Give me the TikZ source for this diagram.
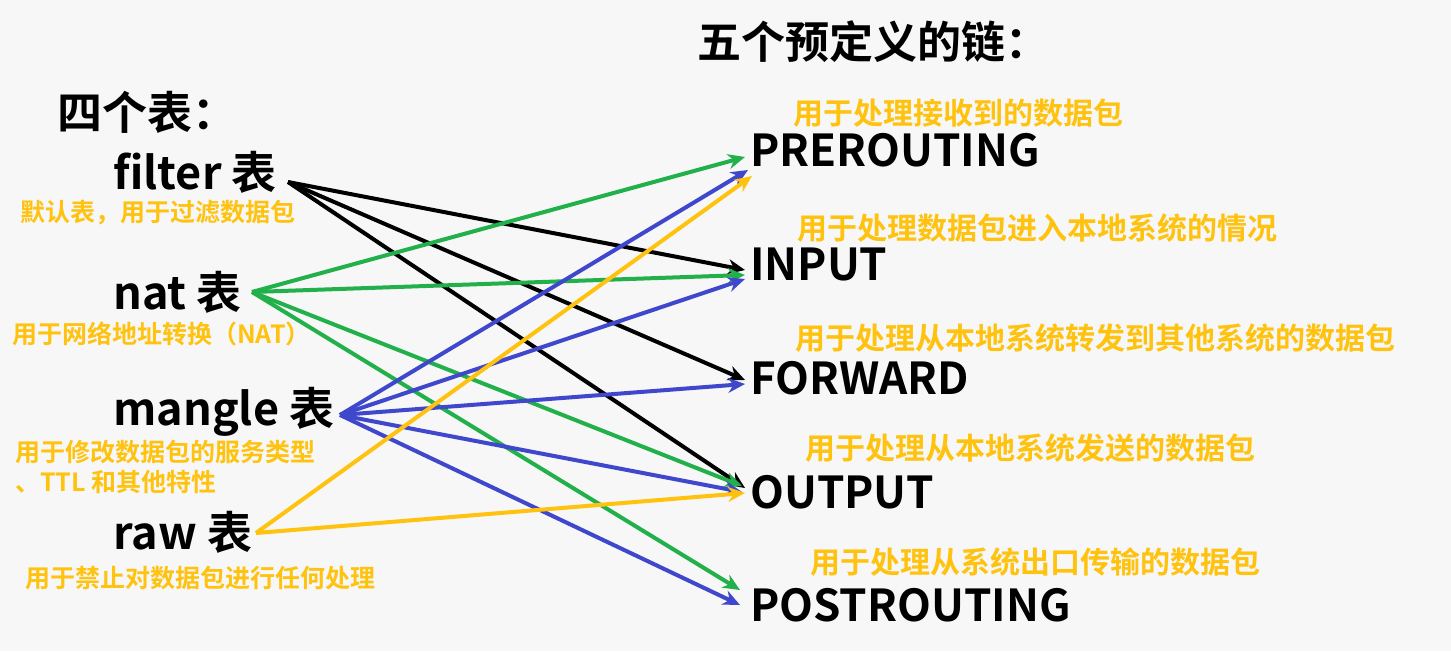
\documentclass[tikz,border=0pt]{standalone}
\usepackage{fontspec}
\setmainfont{Noto Sans CJK SC}[BoldFont={* Bold}]
\usetikzlibrary{arrows.meta}
\definecolor{bg}{HTML}{F7F7F7}
\definecolor{gr}{HTML}{22B04A}
\definecolor{bl}{HTML}{3F48CC}
\definecolor{ye}{HTML}{FFC20E}
\tikzset{
 big/.style={anchor=west,inner sep=0pt,font=\bfseries\fontsize{45}{47}\selectfont},
 chain/.style={anchor=west,inner sep=0pt,font=\bfseries\fontsize{44}{46}\selectfont},
 note/.style={anchor=west,inner sep=0pt,text=ye,font=\bfseries\fontsize{30}{32}\selectfont},
 snote/.style={anchor=west,inner sep=0pt,text=ye,font=\bfseries\fontsize{25}{27}\selectfont},
 arr/.style={line width=4pt,-{Stealth[length=17pt,width=15pt]}},
}
\begin{document}
\begin{tikzpicture}[x=1pt,y=-1pt]
\fill[bg] (0,0) rectangle (1451,651);
\useasboundingbox (0,0) rectangle (1451,651);
\node[big,font=\bfseries\fontsize{44}{46}\selectfont] (t1) at (697,42) {五个预定义的链：};
\node[big] (t2) at (57,112) {四个表：};
\node[big] (filter) at (113,172) {filter 表};
\node[snote] (n1) at (20,213) {默认表，用于过滤数据包};
\node[big] (nat) at (113,292) {nat 表};
\node[snote] (n2) at (12,334) {用于网络地址转换（NAT）};
\node[big] (mangle) at (113,412) {mangle 表};
\node[snote] (n3) at (15,452) {用于修改数据包的服务类型};
\node[snote] (n3b) at (15,482) {、TTL 和其他特性};
\node[big] (raw) at (113,532) {raw 表};
\node[snote] (n4) at (25,578) {用于禁止对数据包进行任何处理};
\node[chain] (pre) at (750,150) {PREROUTING};
\node[chain] (inp) at (750,265) {INPUT};
\node[chain] (fwd) at (750,378) {FORWARD};
\node[chain] (out) at (750,492) {OUTPUT};
\node[chain] (post) at (750,605) {POSTROUTING};
\node[note] (l1) at (793,113) {用于处理接收到的数据包};
\node[note] (l2) at (797,228) {用于处理数据包进入本地系统的情况};
\node[note] (l3) at (795,338) {用于处理从本地系统转发到其他系统的数据包};
\node[note] (l4) at (805,448) {用于处理从本地系统发送的数据包};
\node[note] (l5) at (810,562) {用于处理从系统出口传输的数据包};
\coordinate (fs) at (288,182);
\coordinate (ns) at (252,292);
\coordinate (ms) at (340,415);
\coordinate (rs) at (256,533);
\coordinate (pe1) at (745,157);
\coordinate (pe2) at (748,170);
\coordinate (pe3) at (752,176);
\coordinate (ie1) at (745,270);
\coordinate (ie2) at (745,275);
\coordinate (ie3) at (745,279);
\coordinate (fe1) at (745,380);
\coordinate (fe2) at (745,384);
\coordinate (oe1) at (745,488);
\coordinate (oe2) at (742,486);
\coordinate (oe3) at (742,492);
\coordinate (oe4) at (745,493);
\coordinate (qe1) at (740,590);
\coordinate (qe2) at (740,605);
\draw[arr,black] (fs) -- (ie1);
\draw[arr,black] (fs) -- (fe1);
\draw[arr,black] (fs) -- (oe1);
\draw[arr,gr] (ns) -- (pe1);
\draw[arr,gr] (ns) -- (ie2);
\draw[arr,gr] (ns) -- (oe2);
\draw[arr,gr] (ns) -- (qe1);
\draw[arr,bl] (ms) -- (pe2);
\draw[arr,bl] (ms) -- (ie3);
\draw[arr,bl] (ms) -- (fe2);
\draw[arr,bl] (ms) -- (oe3);
\draw[arr,bl] (ms) -- (qe2);
\draw[arr,ye] (rs) -- (pe3);
\draw[arr,ye] (rs) -- (oe4);
\end{tikzpicture}
\end{document}
